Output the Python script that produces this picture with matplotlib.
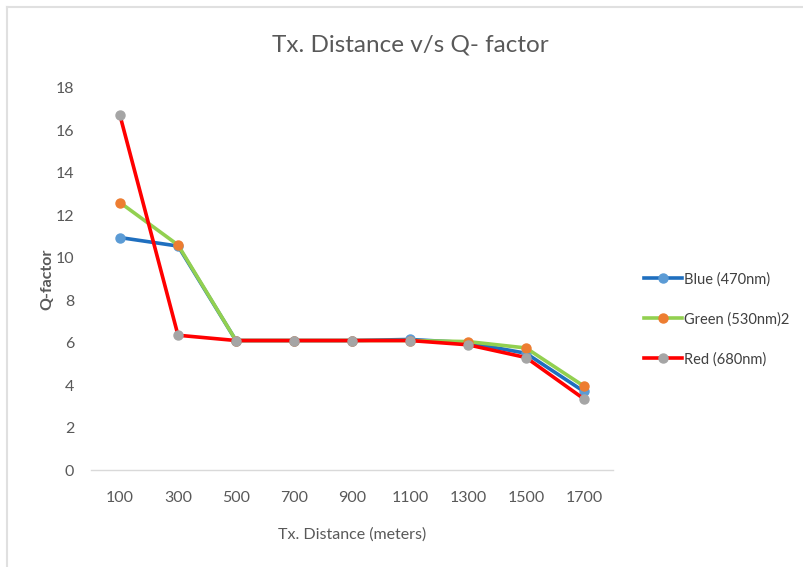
import matplotlib.pyplot as plt
from matplotlib.lines import Line2D

# Data
distances = ['100', '300', '500', '700', '900', '1100', '1300', '1500', '1700']
q_blue = [10.95, 10.55, 6.1, 6.1, 6.1, 6.15, 6.0, 5.5, 3.7]
q_green = [12.6, 10.6, 6.1, 6.1, 6.1, 6.1, 6.05, 5.75, 3.95]
q_red = [16.7, 6.35, 6.1, 6.1, 6.1, 6.1, 5.9, 5.3, 3.35]

labels = ['Blue (470nm)', 'Green (530nm)2', 'Red (680nm)']
line_colors = ['#1f6fbf', '#92d050', '#ff0000']
marker_colors = ['#5b9bd5', '#ed7d31', '#a5a5a5']

plt.rcParams['font.family'] = ['Lato', 'DejaVu Sans']

fig = plt.figure(figsize=(8.04, 5.67), dpi=100)
ax = fig.add_axes([0.1132, 0.171, 0.6492, 0.674])

x = range(len(distances))
for ys, lc, mc, lab in zip([q_blue, q_green, q_red], line_colors, marker_colors, labels):
    ax.plot(x, ys, color=lc, lw=2.6, marker='o', ms=6.5,
            markerfacecolor=mc, markeredgecolor=mc, label=lab)

ax.set_xlim(-0.5, len(distances) - 0.5)
ax.set_ylim(0, 18)
ax.set_yticks(range(0, 19, 2))
ax.set_xticks(list(x))
ax.set_xticklabels(distances)
ax.tick_params(length=0, labelsize=11.5, colors='#595959')
ax.tick_params(axis='x', pad=15)
ax.tick_params(axis='y', pad=12)

for s in ['top', 'right', 'left']:
    ax.spines[s].set_visible(False)
ax.spines['bottom'].set_color('#d9d9d9')
ax.spines['bottom'].set_linewidth(1)

ax.set_xlabel('Tx. Distance (meters)', fontsize=11.5, color='#595959', labelpad=16)
ax.set_ylabel('Q-factor', fontsize=11.5, color='#595959', fontweight='bold')
ax.yaxis.set_label_coords(-0.07, 0.5)
fig.text(0.51, 0.921, 'Tx. Distance v/s Q- factor', ha='center', va='center',
         fontsize=17.5, color='#595959')

leg = fig.legend(loc='center left', bbox_to_anchor=(0.785, 0.437), frameon=False,
                 fontsize=10.5, labelspacing=1.75, handlelength=2.6, handletextpad=0.1)
for t in leg.get_texts():
    t.set_color('#404040')

# light frame around the chart area
fig.add_artist(Line2D([0.009, 1.0], [0.988, 0.988], color='#e0e0e0', lw=1.5))
fig.add_artist(Line2D([0.009, 0.009], [0.0, 0.988], color='#e0e0e0', lw=1.5))

fig.savefig('out.png', dpi=100)
